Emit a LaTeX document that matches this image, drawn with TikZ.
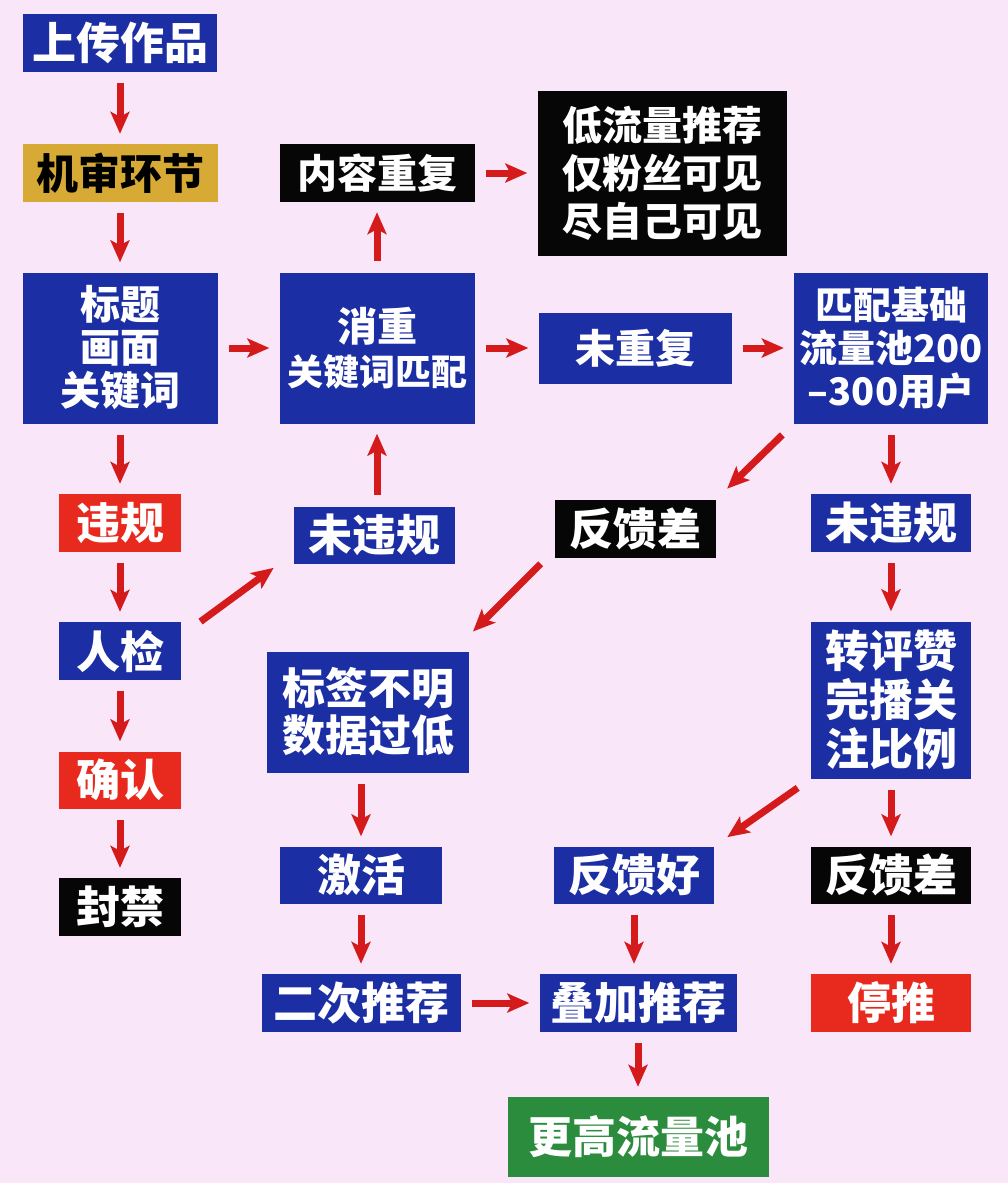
\documentclass[tikz,border=0pt]{standalone}
\usepackage{fontspec}
\usepackage{xcolor}
\usepackage{tikz}
\usetikzlibrary{arrows.meta, positioning, calc}

\newfontfamily\cjk{Noto Sans CJK SC}
\newcommand{\txtsize}[2]{\fontsize{#1}{#2}\selectfont}

\definecolor{sfondo}{RGB}{249,230,248}
\definecolor{blu}{RGB}{27,46,163}
\definecolor{oro}{RGB}{214,170,52}
\definecolor{rosso}{RGB}{232,42,30}
\definecolor{verde}{RGB}{44,140,62}
\definecolor{nero}{RGB}{6,6,6}
\definecolor{freccia}{RGB}{212,26,26}

\begin{document}
\begin{tikzpicture}[x=1pt, y=-1pt,
    box/.style={rectangle, inner sep=0pt, align=center, text=white, font=\cjk\bfseries\txtsize{44}{48}},
    bluebox/.style={box, fill=blu},
    blackbox/.style={box, fill=nero},
    redbox/.style={box, fill=rosso},
    goldbox/.style={box, fill=oro, text=black},
    greenbox/.style={box, fill=verde},
    wh/.style 2 args={minimum width=#1, minimum height=#2},
    flow/.style={draw=freccia, line width=7pt, -{Stealth[length=22pt, width=19pt, inset=5pt]}, shorten <=11pt, shorten >=10pt},
    diag/.style={flow, shorten <=16pt, shorten >=16pt}]

    % Sfondo
    \fill[sfondo] (0,0) rectangle (1008,1183);

    % Colonna sinistra
    \node[bluebox, wh={194pt}{58pt}] (upload) at (120,43) {上传作品};
    \node[goldbox, wh={195pt}{58pt}, font=\cjk\bfseries\txtsize{42}{46}] (audit) at (120,173) {机审环节};
    \node[bluebox, wh={195pt}{151pt}, font=\cjk\bfseries\txtsize{40}{43}] (titolo) at (120,348) {标题\\画面\\关键词};
    \node[redbox, wh={122pt}{58pt}] (violato) at (120,523) {违规};
    \node[bluebox, wh={122pt}{58pt}] (umano) at (120,651) {人检};
    \node[redbox, wh={122pt}{57pt}] (conferma) at (120,780) {确认};
    \node[blackbox, wh={122pt}{58pt}] (ban) at (120,907) {封禁};

    % Seconda colonna
    \node[blackbox, wh={195pt}{58pt}, font=\cjk\bfseries\txtsize{40}{44}] (doppio) at (377,173) {内容重复};
    \node[bluebox, wh={195pt}{151pt}, font=\cjk\bfseries\txtsize{36}{44}] (dedup) at (377,348) {{\txtsize{40}{44}消重}\\关键词匹配};
    \node[bluebox, wh={161pt}{57pt}] (okA) at (374,535) {未违规};
    \node[bluebox, wh={202pt}{121pt}, font=\cjk\bfseries\txtsize{43}{47}] (tag) at (368,712) {标签不明\\数据过低};
    \node[bluebox, wh={162pt}{57pt}] (attiva) at (361,875) {激活};
    \node[bluebox, wh={199pt}{58pt}] (secondo) at (361,1003) {二次推荐};

    % Terza colonna
    \node[blackbox, wh={249pt}{165pt}, font=\cjk\bfseries\txtsize{40}{48}] (basso) at (662,173) {低流量推荐\\仅粉丝可见\\尽自己可见};
    \node[bluebox, wh={193pt}{71pt}, font=\cjk\bfseries\txtsize{40}{44}] (unico) at (635,348) {未重复};
    \node[blackbox, wh={161pt}{58pt}] (scarsoA) at (635,529) {反馈差};
    \node[bluebox, wh={160pt}{57pt}] (buono) at (634,875) {反馈好};
    \node[bluebox, wh={197pt}{58pt}] (somma) at (638,1003) {叠加推荐};
    \node[greenbox, wh={261pt}{80pt}] (pool) at (638,1137) {更高流量池};

    % Colonna destra
    \node[bluebox, wh={194pt}{151pt}, font=\cjk\bfseries\txtsize{38}{43}] (base) at (891,348) {匹配基础\\流量池200\\–300用户};
    \node[bluebox, wh={160pt}{58pt}] (okB) at (891,523) {未违规};
    \node[bluebox, wh={160pt}{157pt}, font=\cjk\bfseries\txtsize{44}{49}] (dati) at (891,700) {转评赞\\完播关\\注比例};
    \node[blackbox, wh={160pt}{57pt}] (scarsoB) at (891,875) {反馈差};
    \node[redbox, wh={160pt}{58pt}] (stop) at (891,1003) {停推};

    % Frecce
    \draw[flow] (upload) -- (audit);
    \draw[flow] (audit) -- (titolo);
    \draw[flow] (titolo) -- (violato);
    \draw[flow] (violato) -- (umano);
    \draw[flow] (umano) -- (conferma);
    \draw[flow] (conferma) -- (ban);
    \draw[flow] (titolo) -- (dedup);
    \draw[flow] (dedup) -- (doppio);
    \draw[flow] (doppio) -- (basso);
    \draw[flow] (dedup) -- (unico);
    \draw[flow] (unico) -- (base);
    \draw[diag, shorten <=24pt, shorten >=7pt] ([yshift=-14pt]umano.north east) -- ([xshift=-14pt]okA.south west);
    \draw[flow] (okA.north -| dedup) -- (dedup);
    \draw[diag] (base.south west) -- (scarsoA.north east);
    \draw[diag, shorten <=8pt, shorten >=28pt] ([xshift=-8pt]scarsoA.south west) -- ([xshift=-16pt]tag.north east);
    \draw[flow] (base) -- (okB);
    \draw[flow] (okB) -- (dati);
    \draw[diag] (dati.south west) -- (buono.north east);
    \draw[flow] (dati) -- (scarsoB);
    \draw[flow] (scarsoB) -- (stop);
    \draw[flow] (tag.south -| attiva) -- (attiva);
    \draw[flow] (attiva) -- (secondo);
    \draw[flow] (secondo) -- (somma);
    \draw[flow] (buono) -- (buono |- somma.north);
    \draw[flow] (somma) -- (pool);
\end{tikzpicture}
\end{document}
